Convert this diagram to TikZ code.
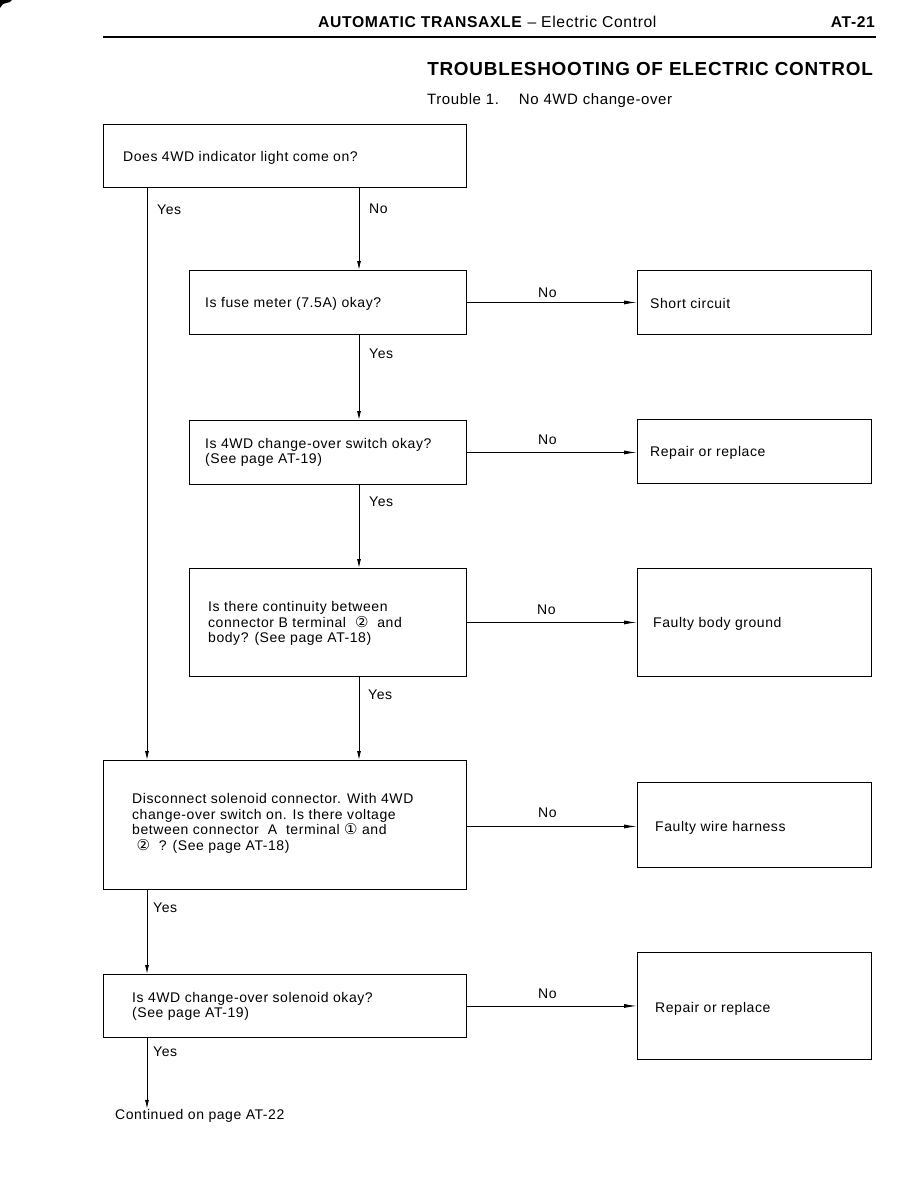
\documentclass[tikz,border=0pt]{standalone}
\usepackage{fontspec}
\setmainfont{Liberation Sans}[LetterSpace=4]
\newfontfamily\dejavu{DejaVu Sans}
\usetikzlibrary{arrows.meta}
\tikzset{
  box/.style={draw, line width=0.9pt, anchor=north west, inner sep=0pt},
  txt/.style={anchor=west, align=left, inner sep=0pt, yshift=-1.5pt, font=\fontsize{14}{15.5}\selectfont},
  lbl/.style={anchor=west, inner sep=0pt, yshift=-1pt, font=\fontsize{14}{15.5}\selectfont},
  arr/.style={line width=0.9pt, -{Latex[length=9pt, width=4pt]}},
  harr/.style={line width=0.9pt, -{Latex[length=13pt, width=4pt]}}
}
\newcommand{\cn}[1]{{\dejavu\fontsize{15}{15.5}\selectfont #1}}
\begin{document}
\begin{tikzpicture}[x=1pt, y=-1pt]
\useasboundingbox (0,0) rectangle (918,1188);
% corner mark
\fill (0,0) -- (12,0) -- (10,2) -- (3,4) -- (0,8) -- cycle;
% header
\node[anchor=west, inner sep=0pt, font=\fontsize{15.7}{17}\selectfont] (hdr) at (318,22) {\textbf{AUTOMATIC TRANSAXLE} -- Electric Control};
\node[anchor=east, inner sep=0pt, font=\fontsize{15.6}{17}\bfseries] (pg) at (875,22) {AT-21};
\draw[line width=2.6pt] (103,37) -- (876,37);
\node[anchor=east, inner sep=0pt, font=\fontsize{18.9}{20}\bfseries] (title) at (873,69) {TROUBLESHOOTING OF ELECTRIC CONTROL};
\node[anchor=west, inner sep=0pt, font=\fontsize{15}{16}\selectfont] (sub) at (427,101) {Trouble 1.\hspace{20pt}No 4WD change-over};

% boxes
\node[box, minimum width=363pt, minimum height=63pt] (q1) at (103,124) {};
\node[box, minimum width=277pt, minimum height=64pt] (q2) at (189,270) {};
\node[box, minimum width=277pt, minimum height=64pt] (q3) at (189,420) {};
\node[box, minimum width=277pt, minimum height=108pt] (q4) at (189,568) {};
\node[box, minimum width=363pt, minimum height=129pt] (q5) at (103,760) {};
\node[box, minimum width=363pt, minimum height=63pt] (q6) at (103,974) {};

\node[box, minimum width=234pt, minimum height=64pt] (r1) at (637,270) {};
\node[box, minimum width=234pt, minimum height=64pt] (r2) at (637,419) {};
\node[box, minimum width=234pt, minimum height=108pt] (r3) at (637,568) {};
\node[box, minimum width=234pt, minimum height=85pt] (r4) at (637,782) {};
\node[box, minimum width=234pt, minimum height=107pt] (r5) at (637,952) {};

% texts
\node[txt] (t1) at (123,156) {Does 4WD indicator light come on?};
\node[txt] (t2) at (205,302) {Is fuse meter (7.5A) okay?};
\node[txt] (t3) at (205,451) {Is 4WD change-over switch okay?\\(See page AT-19)};
\node[txt] (t4) at (208,622) {Is there continuity between\\connector B terminal \ \cn{②}\ \ and\\body? (See page AT-18)};
\node[txt] (t5) at (132,822) {Disconnect solenoid connector. With 4WD\\change-over switch on. Is there voltage\\between connector \ A \ terminal \cn{①} and\\\ \cn{②} \ ? (See page AT-18)};
\node[txt] (t6) at (132,1005) {Is 4WD change-over solenoid okay?\\(See page AT-19)};

\node[txt] (s1) at (650,302) {Short circuit};
\node[txt] (s2) at (650,451) {Repair or replace};
\node[txt] (s3) at (653,622) {Faulty body ground};
\node[txt] (s4) at (655,826) {Faulty wire harness};
\node[txt] (s5) at (655,1007) {Repair or replace};

% connectors
\coordinate (cx) at (359,0);
\coordinate (lx) at (147,0);
\draw[arr] (q1.south -| cx) -- (q2.north -| cx);
\draw[arr] (q2.south -| cx) -- (q3.north -| cx);
\draw[arr] (q3.south -| cx) -- (q4.north -| cx);
\draw[arr] (q4.south -| cx) -- (q5.north -| cx);
\draw[arr] (q1.south -| lx) -- (q5.north -| lx);
\draw[arr] (q5.south -| lx) -- (q6.north -| lx);
\node[txt] (cont) at (115,1114) {Continued on page AT-22};
\draw[arr] (q6.south -| lx) -- (cont.north -| lx);

\draw[harr] (q2.east) -- (q2.east -| r1.west);
\draw[harr] (q3.east) -- (q3.east -| r2.west);
\draw[harr] (q4.east) -- (q4.east -| r3.west);
\draw[harr] ([yshift=-1.5pt]q5.east) -- ([yshift=-1.5pt]q5.east -| r4.west);
\draw[harr] (q6.east) -- (q6.east -| r5.west);

% labels
\node[lbl] (y1) at (157,209) {Yes};
\node[lbl] (n1) at (369,208) {No};
\node[lbl] (y2) at (369,353) {Yes};
\node[lbl] (y3) at (369,501) {Yes};
\node[lbl] (y4) at (368,694) {Yes};
\node[lbl] (y5) at (153,907) {Yes};
\node[lbl] (y6) at (153,1051) {Yes};
\node[lbl] (n2) at (538,292) {No};
\node[lbl] (n3) at (538,439) {No};
\node[lbl] (n4) at (537,609) {No};
\node[lbl] (n5) at (538,812) {No};
\node[lbl] (n6) at (538,993) {No};
\end{tikzpicture}
\end{document}
